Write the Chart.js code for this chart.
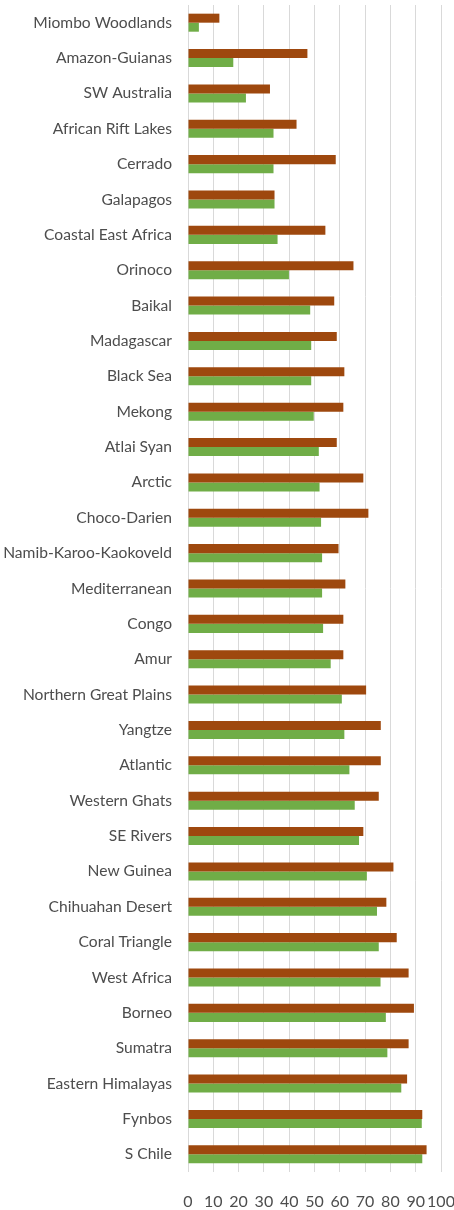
<!DOCTYPE html>
<html>
<head>
<meta charset="utf-8">
<script src="https://cdn.jsdelivr.net/npm/chart.js@4/dist/chart.umd.min.js"></script>
<style>
  html, body { margin: 0; padding: 0; background: #ffffff; }
  #wrap { width: 454px; height: 1210px; position: relative; }
</style>
</head>
<body>
<div id="wrap"><canvas id="c"></canvas></div>
<script>
const categories = [
  "Miombo Woodlands", "Amazon-Guianas", "SW Australia", "African Rift Lakes", "Cerrado",
  "Galapagos", "Coastal East Africa", "Orinoco", "Baikal", "Madagascar", "Black Sea",
  "Mekong", "Atlai Syan", "Arctic", "Choco-Darien", "Namib-Karoo-Kaokoveld",
  "Mediterranean", "Congo", "Amur", "Northern Great Plains", "Yangtze", "Atlantic",
  "Western Ghats", "SE Rivers", "New Guinea", "Chihuahan Desert", "Coral Triangle",
  "West Africa", "Borneo", "Sumatra", "Eastern Himalayas", "Fynbos", "S Chile"
];
const seriesBrown = [
  12.4, 47.2, 32.4, 42.9, 58.4, 34.2, 54.3, 65.4, 57.8, 58.8, 61.8,
  61.4, 58.8, 69.3, 71.3, 59.5, 62.2, 61.4, 61.4, 70.4, 76.2, 76.2,
  75.4, 69.3, 81.2, 78.4, 82.5, 87.2, 89.3, 87.2, 86.6, 92.6, 94.3
];
const seriesGreen = [
  4.3, 17.9, 22.9, 33.8, 33.8, 34.2, 35.4, 39.9, 48.3, 48.7, 48.7,
  49.7, 51.7, 52.0, 52.6, 53.0, 53.0, 53.4, 56.4, 60.8, 61.8, 63.8,
  65.9, 67.6, 70.7, 74.7, 75.4, 76.1, 78.2, 78.8, 84.3, 92.4, 92.6
];
const xTicks = [0, 10, 20, 30, 40, 50, 60, 70, 80, 90, 100];

new Chart(document.getElementById('c'), {
  type: 'bar',
  data: {
    labels: categories,
    datasets: [
      { label: 'Series 1', data: seriesBrown, backgroundColor: '#9E480E', borderWidth: 0,
        categoryPercentage: 0.51, barPercentage: 1.0 },
      { label: 'Series 2', data: seriesGreen, backgroundColor: '#70AD47', borderWidth: 0,
        categoryPercentage: 0.51, barPercentage: 1.0 }
    ]
  },
  options: {
    indexAxis: 'y',
    responsive: true,
    maintainAspectRatio: false,
    animation: false,
    devicePixelRatio: 1,
    layout: { padding: { top: 5, right: 13, bottom: 0, left: 0 } },
    plugins: { legend: { display: false }, tooltip: { enabled: false }, title: { display: false } },
    scales: {
      x: {
        min: 0, max: 100,
        afterBuildTicks: (axis) => { axis.ticks = xTicks.map(v => ({ value: v })); },
        afterFit: (s) => { s.height = 38; s.paddingLeft = 0; s.paddingRight = 0; },
        grid: { color: '#d9d9d9', lineWidth: 1, drawTicks: false },
        border: { display: false },
        ticks: { color: '#4d4d4d', font: { family: 'Lato', size: 16 }, padding: 20, maxRotation: 0, autoSkip: false }
      },
      y: {
        afterFit: (s) => { s.width = 188; s.paddingTop = 0; s.paddingBottom = 0; },
        grid: { display: false, drawTicks: false },
        border: { display: false },
        ticks: { color: '#4d4d4d', font: { family: 'Lato', size: 15.6 }, padding: 16, autoSkip: false }
      }
    }
  }
});
</script>
</body>
</html>
